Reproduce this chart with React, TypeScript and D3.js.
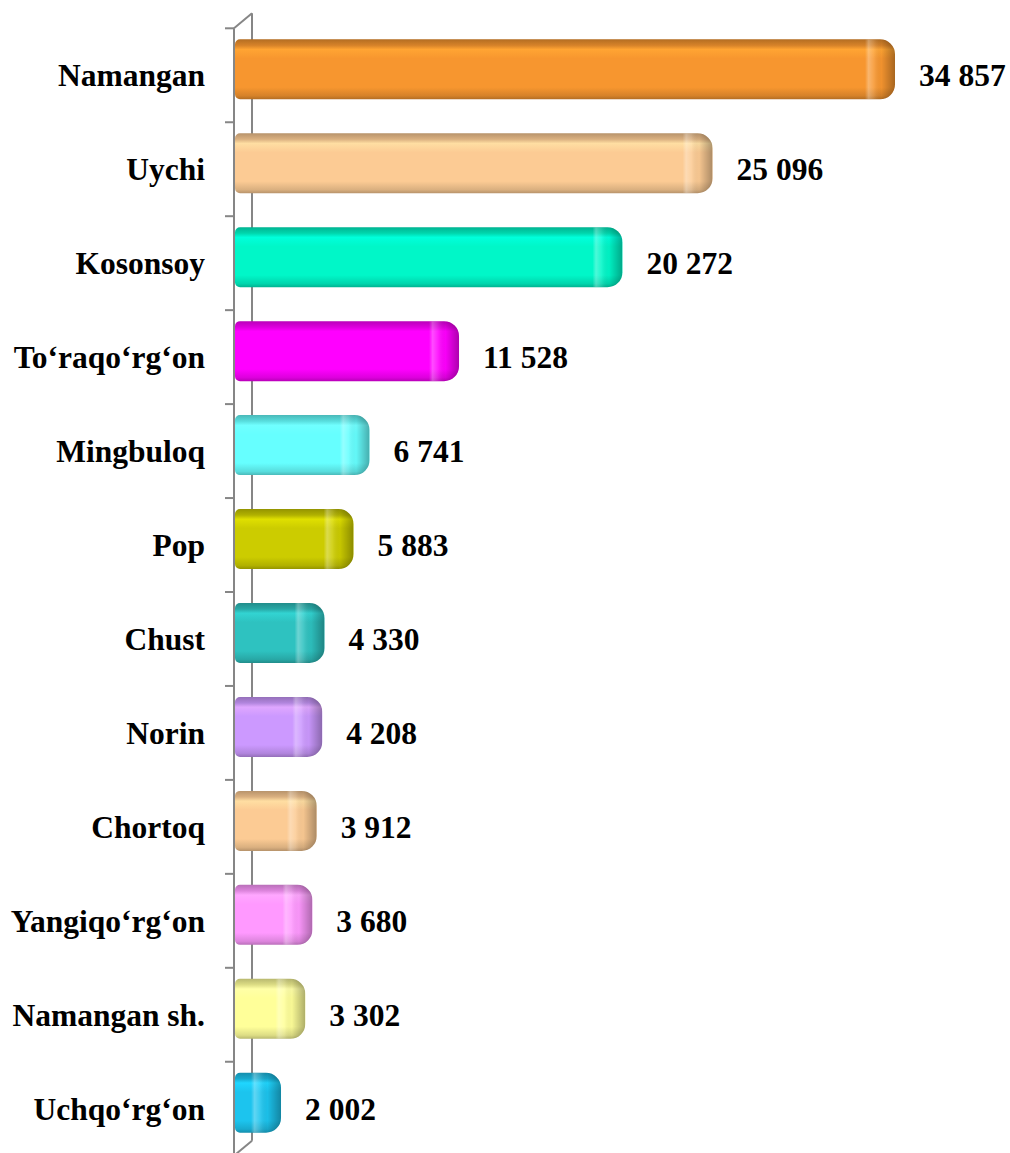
import React, { useEffect, useRef } from 'react'
import * as d3 from 'd3'

const categories = [
  'Namangan', 'Uychi', 'Kosonsoy', 'To‘raqo‘rg‘on', 'Mingbuloq', 'Pop',
  'Chust', 'Norin', 'Chortoq', 'Yangiqo‘rg‘on', 'Namangan sh.', 'Uchqo‘rg‘on'
]
const values = [34857, 25096, 20272, 11528, 6741, 5883, 4330, 4208, 3912, 3680, 3302, 2002]
const barColors = [
  '#F7962F', '#FCCB94', '#00F7C8', '#FF00FF', '#66FFFF', '#CCCC00',
  '#2EC2C0', '#CC99FF', '#FCCB94', '#FF99FF', '#FFFF99', '#1CC4EE'
]

const width = 1010
const height = 1153
const fontFamily = '"Liberation Serif", "Times New Roman", serif'

function App() {
  const ref = useRef<SVGSVGElement>(null)

  useEffect(() => {
    const svg = d3.select(ref.current)
    svg.selectAll('*').remove()

    const frontX = 234
    const depthX = 18
    const depthY = -15

    const y = d3.scaleBand()
      .domain(categories)
      .range([28.3, 1155.7])
      .padding(0)

    // zero sits in the middle of the depth
    const x = d3.scaleLinear()
      .domain([0, 40000])
      .range([243.6, 243.6 + 40000 * 0.018688])

    const fmt = d3.formatLocale({ decimal: ',', thousands: ' ', grouping: [3], currency: ['', ''] }).format(',d')

    const defs = svg.append('defs')
    const axisColor = '#868686'
    const [y0, y1] = y.range()

    // walls
    const axis = svg.append('g').attr('stroke', axisColor).attr('stroke-width', 2).attr('fill', 'none')
    axis.append('line').attr('x1', frontX).attr('x2', frontX).attr('y1', y0).attr('y2', y1)
    axis.append('line').attr('x1', frontX + depthX).attr('x2', frontX + depthX).attr('y1', y0 + depthY).attr('y2', y1 + depthY)
    axis.append('line').attr('x1', frontX).attr('y1', y0).attr('x2', frontX + depthX).attr('y2', y0 + depthY)
    axis.append('line').attr('x1', frontX).attr('y1', y1).attr('x2', frontX + depthX).attr('y2', y1 + depthY)

    axis.selectAll('.tick')
      .data(d3.range(categories.length + 1))
      .join('line')
      .attr('class', 'tick')
      .attr('x1', frontX - 9)
      .attr('x2', frontX)
      .attr('y1', i => y0 + i * y.bandwidth())
      .attr('y2', i => y0 + i * y.bandwidth())

    const barH = 60
    const barOff = 11

    categories.forEach((c, i) => {
      const col = d3.rgb(barColors[i])
      const dark = col.darker(0.9).formatHex()
      const mid = col.darker(0.4).formatHex()
      const light = d3.rgb(barColors[i]).brighter(0.25).formatHex()

      const g = defs.append('linearGradient').attr('id', `grad${i}`).attr('x1', 0).attr('x2', 0).attr('y1', 0).attr('y2', 1)
      g.append('stop').attr('offset', 0).attr('stop-color', dark)
      g.append('stop').attr('offset', 0.1).attr('stop-color', mid)
      g.append('stop').attr('offset', 0.17).attr('stop-color', light)
      g.append('stop').attr('offset', 0.32).attr('stop-color', barColors[i])
      g.append('stop').attr('offset', 0.8).attr('stop-color', barColors[i])
      g.append('stop').attr('offset', 0.94).attr('stop-color', mid)
      g.append('stop').attr('offset', 1).attr('stop-color', dark)

      const cg = defs.append('linearGradient').attr('id', `cap${i}`).attr('x1', 0).attr('x2', 1).attr('y1', 0).attr('y2', 0)
      cg.append('stop').attr('offset', 0).attr('stop-color', '#fff').attr('stop-opacity', 0)
      cg.append('stop').attr('offset', 0.12).attr('stop-color', '#fff').attr('stop-opacity', 0.3)
      cg.append('stop').attr('offset', 0.3).attr('stop-color', '#fff').attr('stop-opacity', 0.12)
      cg.append('stop').attr('offset', 0.55).attr('stop-color', '#000').attr('stop-opacity', 0.03)
      cg.append('stop').attr('offset', 1).attr('stop-color', '#000').attr('stop-opacity', 0.32)

      const bx0 = frontX + 1
      const bx1 = x(values[i])
      const by = (y(c) as number) + barOff
      const rL = 5
      const rR = Math.min(15, (bx1 - bx0) / 2)

      const p = d3.path()
      p.moveTo(bx0 + rL, by)
      p.lineTo(bx1 - rR, by)
      p.arcTo(bx1, by, bx1, by + rR, rR)
      p.lineTo(bx1, by + barH - rR)
      p.arcTo(bx1, by + barH, bx1 - rR, by + barH, rR)
      p.lineTo(bx0 + rL, by + barH)
      p.arcTo(bx0, by + barH, bx0, by + barH - rL, rL)
      p.lineTo(bx0, by + rL)
      p.arcTo(bx0, by, bx0 + rL, by, rL)
      p.closePath()

      defs.append('clipPath').attr('id', `clip${i}`).append('path').attr('d', p.toString())

      svg.append('path')
        .attr('d', p.toString())
        .attr('fill', `url(#grad${i})`)

      const capW = Math.min(30, bx1 - bx0)
      svg.append('rect')
        .attr('clip-path', `url(#clip${i})`)
        .attr('x', bx1 - capW)
        .attr('y', by)
        .attr('width', capW)
        .attr('height', barH)
        .attr('fill', `url(#cap${i})`)
    })

    // category labels
    svg.append('g')
      .selectAll('text')
      .data(categories)
      .join('text')
      .attr('x', 205)
      .attr('y', d => (y(d) as number) + y.bandwidth() / 2)
      .attr('dy', '0.35em')
      .attr('text-anchor', 'end')
      .attr('font-family', fontFamily)
      .attr('font-weight', 'bold')
      .attr('font-size', 31.5)
      .text(d => d)

    // value labels
    svg.append('g')
      .selectAll('text')
      .data(categories)
      .join('text')
      .attr('x', (d, i) => x(values[i]) + 24)
      .attr('y', d => (y(d) as number) + y.bandwidth() / 2)
      .attr('dy', '0.35em')
      .attr('font-family', fontFamily)
      .attr('font-weight', 'bold')
      .attr('font-size', 31.5)
      .text((d, i) => fmt(values[i]))
  }, [])

  return (
    <svg
      ref={ref}
      width={width}
      height={height}
      style={{ position: 'absolute', left: 0, top: 0, background: '#fff', display: 'block' }}
    />
  )
}

export default App
